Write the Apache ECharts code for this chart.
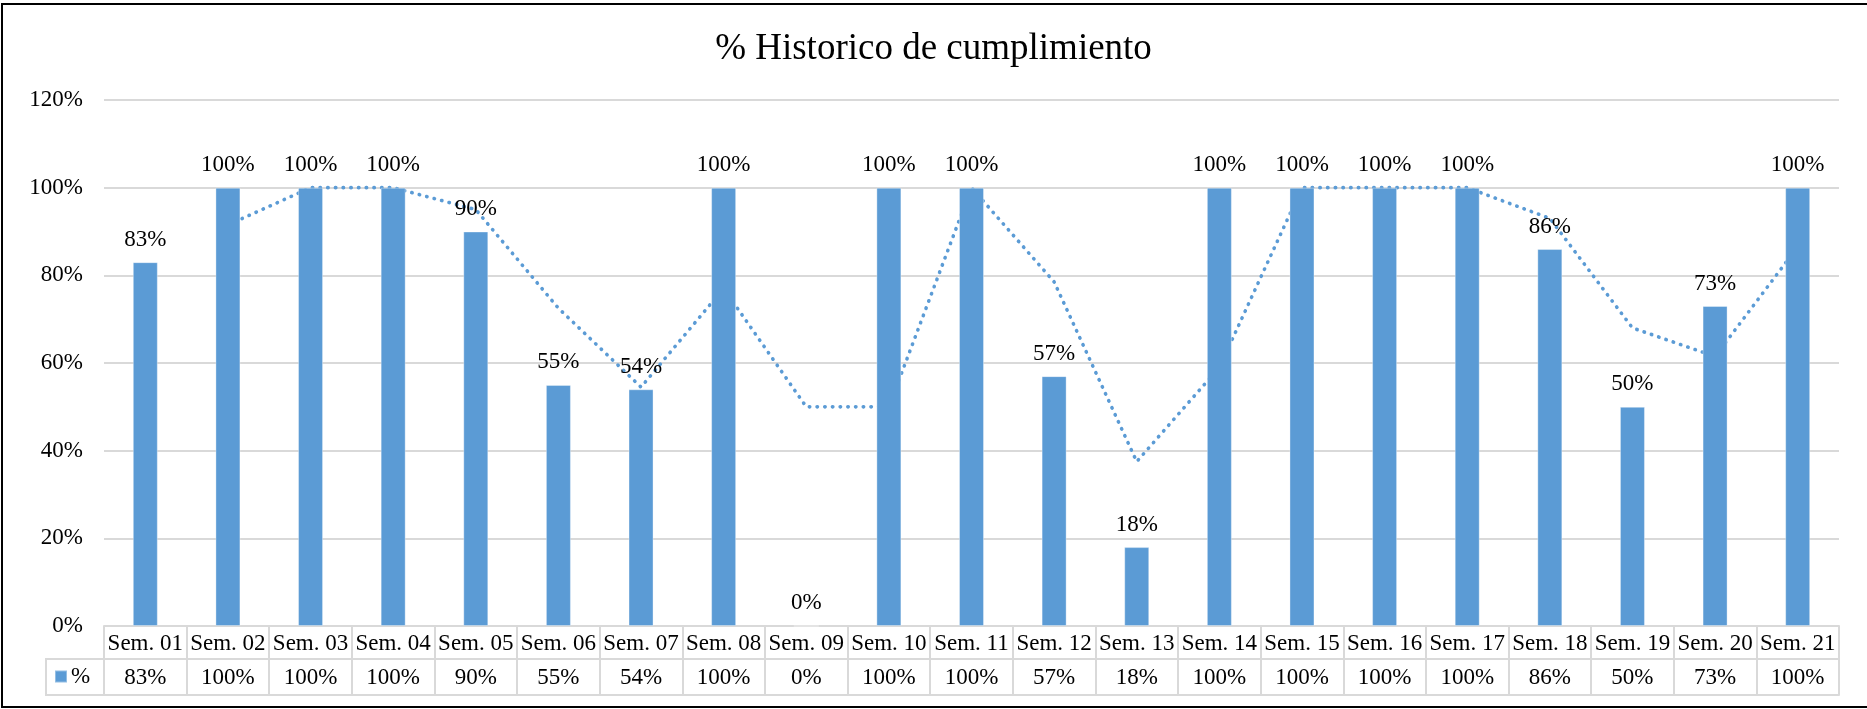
<!DOCTYPE html>
<html>
<head>
<meta charset="utf-8">
<title>% Historico de cumplimiento</title>
<script src="https://cdn.jsdelivr.net/npm/echarts@6/dist/echarts.min.js"></script>
<style>
  html, body { margin: 0; padding: 0; background: #fff; }
  #chart { width: 1867px; height: 709px; }
</style>
</head>
<body>
<div id="chart"></div>
<script>
// Weekly compliance, in percent
const weeks = ['Sem. 01', 'Sem. 02', 'Sem. 03', 'Sem. 04', 'Sem. 05', 'Sem. 06', 'Sem. 07',
               'Sem. 08', 'Sem. 09', 'Sem. 10', 'Sem. 11', 'Sem. 12', 'Sem. 13', 'Sem. 14',
               'Sem. 15', 'Sem. 16', 'Sem. 17', 'Sem. 18', 'Sem. 19', 'Sem. 20', 'Sem. 21'];
const compliance = [83, 100, 100, 100, 90, 55, 54, 100, 0, 100, 100, 57, 18, 100,
                    100, 100, 100, 86, 50, 73, 100];
// Two-period moving-average trendline (starts at the second week)
const trend = [null, 91.5, 100, 100, 95, 72.5, 54.5, 77, 50, 50, 100, 78.5, 37.5, 59,
               100, 100, 100, 93, 68, 61.5, 86.5];
const yTicks = [0, 20, 40, 60, 80, 100, 120];

const FONT = '"Liberation Serif", "Times New Roman", serif';
const BLUE = '#5b9bd5';
const RULE = '#d9d9d9';

// plot frame and data-table geometry
const W = 1867, H = 709;
const G = { left: 104, right: 28, top: 100, bottom: 83 };
const ROW1 = 33, ROW2 = 36;           // heights of the two table rows
const tableTop = H - G.bottom;
const legendCellLeft = 46;

const chart = echarts.init(document.getElementById('chart'), null, { renderer: 'canvas' });

chart.setOption({
  backgroundColor: '#fff',
  animation: false,
  title: {
    text: '% Historico de cumplimiento',
    left: 'center',
    top: 26,
    textStyle: { fontFamily: FONT, fontSize: 37, fontWeight: 'normal', color: '#000' }
  },
  legend: {
    data: ['%'],
    left: 54,
    top: tableTop + ROW1 + 6,
    padding: 0,
    icon: 'rect',
    itemWidth: 12,
    itemHeight: 12,
    itemGap: 6,
    textStyle: { fontFamily: FONT, fontSize: 23, color: '#000', padding: [0, 0, 0, -1] }
  },
  grid: { left: G.left, right: G.right, top: G.top, bottom: G.bottom, containLabel: false },
  xAxis: [
    {
      type: 'category',
      data: weeks,
      position: 'bottom',
      boundaryGap: true,
      axisLine: { show: true, lineStyle: { color: RULE, width: 2 } },
      axisTick: { show: true, interval: 0, length: ROW1 + ROW2, lineStyle: { color: RULE, width: 2 } },
      axisLabel: { interval: 0, margin: 6, fontFamily: FONT, fontSize: 23, color: '#000' },
      splitLine: { show: false }
    },
    {
      type: 'category',
      data: weeks,
      position: 'bottom',
      offset: ROW1,
      boundaryGap: true,
      axisLine: { show: true, lineStyle: { color: RULE, width: 2 } },
      axisTick: { show: false },
      axisLabel: {
        interval: 0, margin: 7, fontFamily: FONT, fontSize: 23, color: '#000',
        formatter: (v, i) => compliance[i] + '%'
      }
    },
    {
      type: 'category',
      data: weeks,
      position: 'bottom',
      offset: ROW1 + ROW2,
      boundaryGap: true,
      axisLine: { show: true, lineStyle: { color: RULE, width: 2 } },
      axisTick: { show: false },
      axisLabel: { show: false }
    }
  ],
  yAxis: {
    type: 'value',
    min: yTicks[0],
    max: yTicks[yTicks.length - 1],
    interval: yTicks[1] - yTicks[0],
    axisLine: { show: false },
    axisTick: { show: false },
    axisLabel: { margin: 21, fontFamily: FONT, fontSize: 23, color: '#000', formatter: '{value}%' },
    splitLine: { show: true, lineStyle: { color: RULE, width: 2 } }
  },
  series: [
    {
      name: 'Tendencia',
      type: 'line',
      data: trend,
      xAxisIndex: 0,
      z: 1,
      symbol: 'none',
      smooth: false,
      silent: true,
      lineStyle: { color: BLUE, width: 3.6, type: [0.4, 7.3], cap: 'round' }
    },
    {
      name: '%',
      type: 'bar',
      data: compliance,
      xAxisIndex: 0,
      z: 2,
      barWidth: 25,
      itemStyle: { color: BLUE, borderColor: 'rgba(255,255,255,0.35)', borderWidth: 1 },
      label: {
        show: true,
        position: 'top',
        distance: 11,
        formatter: '{c}%',
        fontFamily: FONT,
        fontSize: 23,
        color: '#000'
      }
    }
  ],
  graphic: [
    {
      // legend cell of the data table
      type: 'rect',
      silent: true,
      shape: { x: legendCellLeft, y: tableTop + ROW1, width: G.left - legendCellLeft, height: ROW2 },
      style: { fill: 'none', stroke: RULE, lineWidth: 2 }
    },
    {
      // chart-area frame
      type: 'rect',
      silent: true,
      shape: { x: 2, y: 4, width: W + 10, height: H - 6 },
      style: { fill: 'none', stroke: '#000', lineWidth: 2 }
    }
  ]
});
</script>
</body>
</html>
